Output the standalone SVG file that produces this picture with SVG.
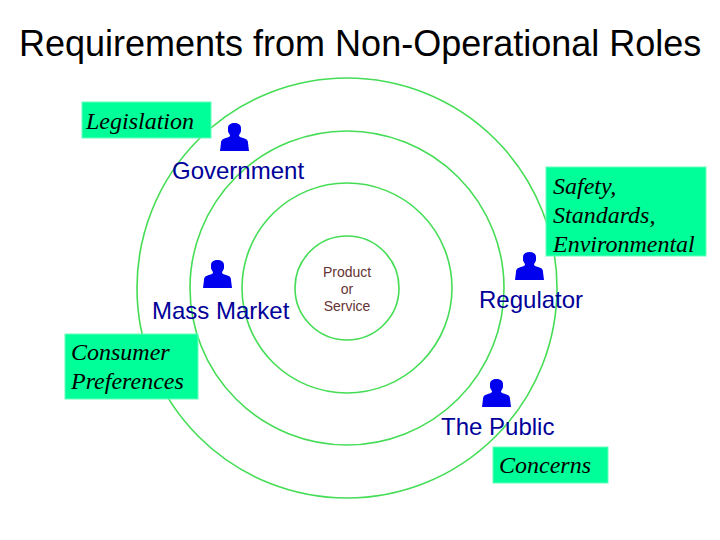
<svg xmlns="http://www.w3.org/2000/svg" width="720" height="540" viewBox="0 0 720 540">
<style>
.ring{fill:none;stroke:#44dd55;stroke-width:1.6}
.box{fill:#00ff99;stroke:#66ffbb;stroke-width:1}
.note{font-family:"Liberation Serif",serif;font-style:italic;font-size:24px;fill:#000}
.role{font-family:"Liberation Sans",sans-serif;font-size:24px;fill:#000099}
.core{font-family:"Liberation Sans",sans-serif;font-size:14px;fill:#663333;text-anchor:middle}
.title{font-family:"Liberation Sans",sans-serif;font-size:36px;fill:#000}
.person{fill:#0000ee}
</style>
<defs>
<path id="p" d="M-6.500-13C-6.500-16.500 -3.500-18 0-18C3.500-18 6.500-16.500 6.500-13L6.500-10C6.500-8 4.500-7 4.500-5.500C4.500-4 7-3.500 10-2.500C13-1.500 13.500 0 13.500 2L14.500 10L-14.500 10L-13.500 2C-13.500 0 -13-1.500 -10-2.500C-7-3.500 -4.500-4 -4.500-5.500C-4.500-7 -6.500-8 -6.500-10Z"/>
</defs>
<rect width="720" height="540" fill="#fff"/>
<text class="title" x="19" y="56">Requirements from Non-Operational Roles</text>
<g id="connectors">
<circle class="ring" cx="347" cy="288" r="52"/>
<circle class="ring" cx="347" cy="288" r="105"/>
<circle class="ring" cx="347" cy="288" r="157"/>
<circle class="ring" cx="347" cy="288" r="210"/>
</g>
<g id="core"><text class="core"><tspan x="347" y="277">Product</tspan><tspan x="347" y="294">or</tspan><tspan x="347" y="311">Service</tspan></text></g>
<g id="legislation"><rect class="box" x="82" y="102" width="129" height="36"/><text class="note" x="86" y="129">Legislation</text></g>
<g id="safety"><rect class="box" x="546" y="167" width="160" height="89"/><text class="note"><tspan x="553" y="194">Safety,</tspan><tspan x="553" y="223">Standards,</tspan><tspan x="553" y="252">Environmental</tspan></text></g>
<g id="consumer"><rect class="box" x="65" y="334" width="133" height="65"/><text class="note"><tspan x="71" y="360">Consumer</tspan><tspan x="71" y="389">Preferences</tspan></text></g>
<g id="concerns"><rect class="box" x="493" y="447" width="115" height="36"/><text class="note" x="499" y="473">Concerns</text></g>
<g id="government"><use href="#p" class="person" x="234.500" y="141"/><text class="role" x="172" y="179">Government</text></g>
<g id="mass-market"><use href="#p" class="person" x="217.500" y="278"/><text class="role" x="152" y="319">Mass Market</text></g>
<g id="regulator"><use href="#p" class="person" x="529.500" y="270"/><text class="role" x="479" y="308">Regulator</text></g>
<g id="public"><use href="#p" class="person" x="496.500" y="397"/><text class="role" x="441" y="435">The Public</text></g>
</svg>
